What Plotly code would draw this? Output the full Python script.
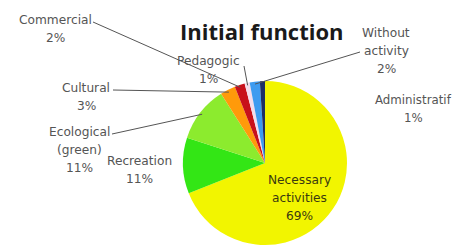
import math
import plotly.graph_objects as go

# ---- data ----
categories = ["Necessary activities", "Recreation", "Ecological (green)", "Cultural",
              "Commercial", "Pedagogic", "Without activity", "Administratif"]
values = [69, 11, 11, 3, 2, 1, 2, 1]
label_lines = [["Necessary", "activities", "69%"],
               ["Recreation", "11%"],
               ["Ecological", "(green)", "11%"],
               ["Cultural", "3%"],
               ["Commercial", "2%"],
               ["Pedagogic", "1%"],
               ["Without", "activity", "2%"],
               ["Administratif", "1%"]]
title_text = "Initial function"

# ---- style / layout ----
W, H = 463, 251
OFF = 8  # page body margin in the browser
colors = ["#F2F500", "#33E615", "#8CEB2E", "#FF9A0A", "#C8101A", "#F3DDEB", "#3D9BF0", "#1E2E66"]
CX, CY, R = 265, 163, 82
# label anchor (center x, first line y) in window pixels, and leader line start (or None)
label_pos = [(299, 180), (139, 161), (79, 132), (86, 88), (55, 20), (208, 61), (386, 33), (413, 100)]
leader_start = [None, None, (112, 134), (113, 90), (93, 22), (244, 66), (360, 52), None]
LINE_STEP = 18


def px(x):
    return (x - OFF) / W


def py(y):
    return 1 - (y - OFF) / H


fig = go.Figure(go.Pie(
    labels=categories, values=values, sort=False, direction="clockwise", rotation=0,
    marker=dict(colors=colors, line=dict(width=0)),
    textinfo="none", hoverinfo="label+percent", showlegend=False,
    domain=dict(x=[px(CX - R), px(CX + R)], y=[py(CY + R), py(CY - R)]),
))

annotations = []
shapes = []
total = sum(values)
cum = 0
for i, v in enumerate(values):
    mid = (cum + v / 2) / total * 2 * math.pi
    cum += v
    lx, ly = label_pos[i]
    for j, t in enumerate(label_lines[i]):
        annotations.append(dict(
            x=px(lx), y=py(ly + j * LINE_STEP), xref="paper", yref="paper",
            text=t, showarrow=False, xanchor="center", yanchor="middle",
            font=dict(family="DejaVu Sans, sans-serif", size=12.2 if i != 7 else 11.8,
                      color="#555555" if i else "#3a3a10"),
        ))
    if leader_start[i] is not None:
        sx, sy = leader_start[i]
        tx = CX + R * 0.97 * math.sin(mid)
        ty = CY - R * 0.97 * math.cos(mid)
        shapes.append(dict(type="line", xref="paper", yref="paper",
                           x0=px(sx), y0=py(sy), x1=px(tx), y1=py(ty),
                           line=dict(color="#555555", width=1)))

annotations.append(dict(
    x=px(262), y=py(31), xref="paper", yref="paper", text="<b>" + title_text + "</b>",
    showarrow=False, xanchor="center", yanchor="middle",
    font=dict(family="Open Sans, sans-serif", size=22, color="#1a1a1a"),
))

fig.update_layout(
    width=W, height=H, autosize=False,
    margin=dict(l=0, r=0, t=0, b=0),
    paper_bgcolor="white", plot_bgcolor="white",
    annotations=annotations, shapes=shapes,
)

fig.write_html("out.html")
